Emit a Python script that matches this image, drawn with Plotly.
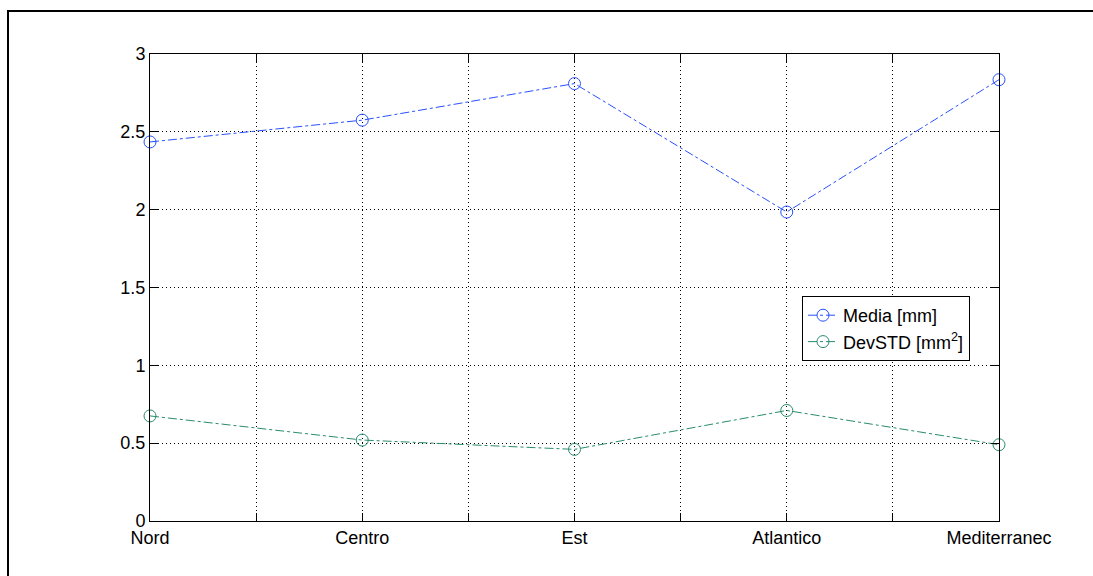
import plotly.graph_objects as go

categories = ["Nord", "Centro", "Est", "Atlantico", "Mediterranec"]
media = [2.435, 2.575, 2.81, 1.985, 2.835]
devstd = [0.675, 0.52, 0.46, 0.71, 0.49]
y_ticks = [0, 0.5, 1, 1.5, 2, 2.5, 3]
y_labels = ["0", "0.5", "1", "1.5", "2", "2.5", "3"]

xpos = list(range(1, len(categories) + 1))
half_ticks = [x + 0.5 for x in xpos[:-1]]

fig = go.Figure()
fig.add_trace(go.Scatter(
    x=xpos, y=media, name="Media [mm]", mode="lines+markers", cliponaxis=False,
    line=dict(color="rgb(40,80,255)", width=1, dash="dashdot"),
    marker=dict(symbol="circle-open", size=12, color="rgb(40,80,255)", line=dict(width=1)),
))
fig.add_trace(go.Scatter(
    x=xpos, y=devstd, name="DevSTD [mm<sup>2</sup>]", mode="lines+markers", cliponaxis=False,
    line=dict(color="rgb(40,140,110)", width=1, dash="dashdot"),
    marker=dict(symbol="circle-open", size=12, color="rgb(40,140,110)", line=dict(width=1)),
))

L, R, T, B = 150, 94, 54, 55
W, H = 1093, 576
pw, ph = W - L - R, H - T - B

grid_dash = "1px,3px"

fig.update_layout(
    width=W, height=H,
    margin=dict(l=L, r=R, t=T, b=B, pad=0),
    paper_bgcolor="white", plot_bgcolor="white",
    font=dict(family="Liberation Sans, Arial, sans-serif", size=18, color="black"),
    showlegend=True,
    legend=dict(x=(802 - L) / pw, y=(H - B - 296) / ph, xanchor="left", yanchor="top",
                bordercolor="black", borderwidth=1, bgcolor="white",
                font=dict(size=18), tracegroupgap=0),
    xaxis=dict(range=[1, 5], tickmode="array", tickvals=xpos, ticktext=categories,
               showgrid=True, gridcolor="black", griddash=grid_dash, gridwidth=1,
               ticks="inside", ticklen=8, tickcolor="black",
               minor=dict(tickvals=half_ticks, showgrid=True, gridcolor="black",
                          griddash=grid_dash, gridwidth=1, ticks="inside", ticklen=8,
                          tickcolor="black"),
               showline=True, linecolor="black", linewidth=1, mirror="ticks",
               zeroline=False, fixedrange=True),
    yaxis=dict(range=[0, 3], tickmode="array", tickvals=y_ticks, ticktext=y_labels,
               showgrid=True, gridcolor="black", griddash=grid_dash, gridwidth=1,
               ticks="inside", ticklen=8, tickcolor="black",
               showline=True, linecolor="black", linewidth=1, mirror="ticks",
               zeroline=False, fixedrange=True),
    shapes=[dict(type="rect", xref="paper", yref="paper",
                 x0=(8 - L) / pw, x1=(W + 20 - L) / pw,
                 y0=(H - B - (H + 20)) / ph, y1=(H - B - 11) / ph,
                 line=dict(color="black", width=2), layer="below")],
)

fig.write_html("out.html")
